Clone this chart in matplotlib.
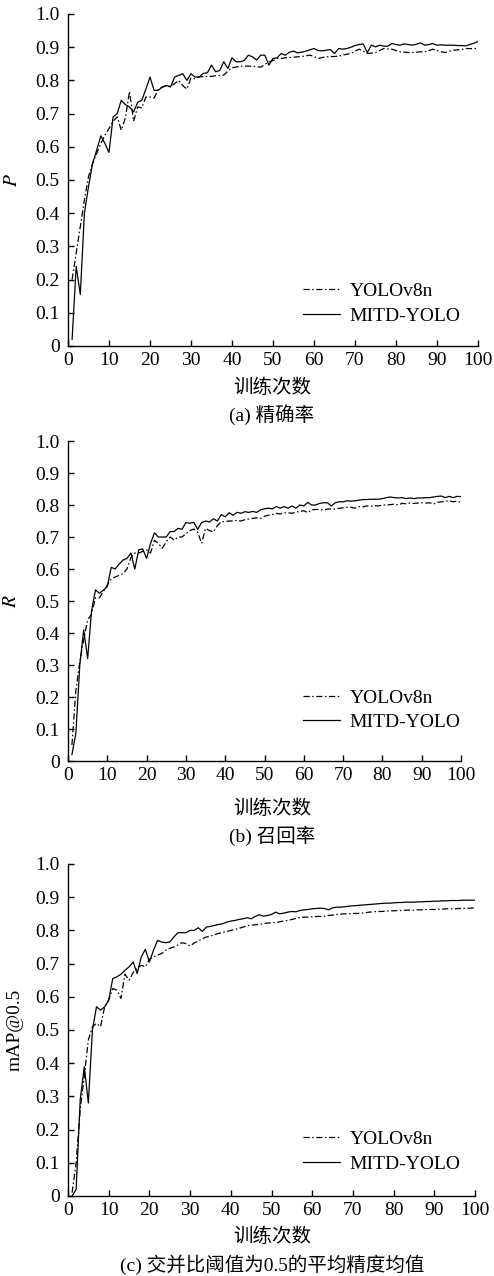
import numpy as np
import matplotlib
matplotlib.use('Agg')
import matplotlib.pyplot as plt

plt.rcParams['font.family'] = ['Liberation Serif', 'Noto Sans CJK SC']
plt.rcParams['font.size'] = 14
plt.rcParams['mathtext.fontset'] = 'stix'

epochs = np.arange(1, 101)

# (a) precision
p_yolo = [0.20, 0.28, 0.36, 0.44, 0.51, 0.55, 0.58, 0.61, 0.635, 0.655,
          0.677, 0.69, 0.65, 0.687, 0.767, 0.677, 0.72, 0.717, 0.75, 0.75,
          0.747, 0.772, 0.78, 0.784, 0.782, 0.79, 0.80, 0.784, 0.774, 0.807,
          0.805, 0.811, 0.811, 0.812, 0.812, 0.814, 0.815, 0.816, 0.828, 0.838,
          0.84, 0.843, 0.843, 0.843, 0.843, 0.841, 0.84, 0.848, 0.856, 0.86,
          0.866, 0.866, 0.868, 0.869, 0.87, 0.871, 0.872, 0.874, 0.876, 0.872,
          0.866, 0.869, 0.871, 0.872, 0.872, 0.873, 0.876, 0.879, 0.881, 0.888,
          0.894, 0.888, 0.881, 0.882, 0.884, 0.89, 0.896, 0.895, 0.894, 0.89,
          0.886, 0.885, 0.884, 0.884, 0.885, 0.886, 0.886, 0.89, 0.894, 0.89,
          0.886, 0.884, 0.888, 0.891, 0.892, 0.893, 0.896, 0.896, 0.896, 0.896]
p_mitd = [0.02, 0.24, 0.155, 0.40, 0.48, 0.55, 0.59, 0.633, 0.61, 0.583,
          0.69, 0.70, 0.74, 0.727, 0.72, 0.705, 0.734, 0.74, 0.774, 0.81,
          0.77, 0.77, 0.78, 0.785, 0.78, 0.81, 0.815, 0.82, 0.80, 0.82,
          0.81, 0.81, 0.821, 0.823, 0.846, 0.826, 0.83, 0.856, 0.836, 0.868,
          0.856, 0.856, 0.86, 0.876, 0.871, 0.861, 0.876, 0.876, 0.846, 0.866,
          0.868, 0.881, 0.876, 0.885, 0.888, 0.883, 0.885, 0.888, 0.892, 0.896,
          0.89, 0.889, 0.891, 0.893, 0.881, 0.896, 0.894, 0.896, 0.90, 0.905,
          0.908, 0.91, 0.884, 0.906, 0.901, 0.906, 0.903, 0.903, 0.911, 0.908,
          0.906, 0.91, 0.908, 0.906, 0.909, 0.913, 0.906, 0.908, 0.911, 0.906,
          0.907, 0.906, 0.906, 0.906, 0.905, 0.905, 0.904, 0.908, 0.912, 0.917]

# (b) recall
r_yolo = [0.05, 0.22, 0.31, 0.38, 0.44, 0.46, 0.51, 0.51, 0.53, 0.55,
          0.57, 0.575, 0.58, 0.585, 0.60, 0.635, 0.65, 0.65, 0.655, 0.66,
          0.65, 0.69, 0.68, 0.665, 0.685, 0.70, 0.69, 0.70, 0.70, 0.71,
          0.72, 0.725, 0.715, 0.68, 0.727, 0.72, 0.716, 0.735, 0.748, 0.748,
          0.75, 0.75, 0.752, 0.75, 0.754, 0.756, 0.758, 0.76, 0.758, 0.765,
          0.768, 0.77, 0.774, 0.772, 0.775, 0.776, 0.774, 0.778, 0.78, 0.782,
          0.776, 0.785, 0.786, 0.786, 0.784, 0.787, 0.788, 0.787, 0.79, 0.791,
          0.793, 0.793, 0.79, 0.795, 0.794, 0.797, 0.796, 0.798, 0.797, 0.80,
          0.80, 0.801, 0.803, 0.80, 0.805, 0.804, 0.806, 0.805, 0.806, 0.807,
          0.806, 0.807, 0.803, 0.808, 0.81, 0.812, 0.813, 0.81, 0.812, 0.808]
r_mitd = [0.02, 0.086, 0.30, 0.41, 0.32, 0.47, 0.535, 0.524, 0.534, 0.545,
          0.605, 0.60, 0.615, 0.628, 0.633, 0.65, 0.60, 0.66, 0.663, 0.633,
          0.68, 0.713, 0.70, 0.70, 0.70, 0.717, 0.717, 0.727, 0.724, 0.745,
          0.743, 0.746, 0.724, 0.745, 0.75, 0.747, 0.757, 0.75, 0.77, 0.763,
          0.776, 0.768, 0.777, 0.774, 0.779, 0.777, 0.78, 0.777, 0.785, 0.788,
          0.79, 0.788, 0.795, 0.79, 0.795, 0.79, 0.797, 0.79, 0.80, 0.797,
          0.808, 0.80, 0.80, 0.805, 0.807, 0.807, 0.797, 0.807, 0.81, 0.81,
          0.813, 0.812, 0.813, 0.815, 0.817, 0.817, 0.818, 0.818, 0.818, 0.82,
          0.823, 0.825, 0.823, 0.822, 0.823, 0.82, 0.822, 0.82, 0.822, 0.822,
          0.823, 0.823, 0.825, 0.827, 0.828, 0.823, 0.827, 0.823, 0.827, 0.826]

# (c) mAP@0.5
m_yolo = [0.01, 0.10, 0.26, 0.36, 0.47, 0.51, 0.52, 0.51, 0.57, 0.59,
          0.625, 0.62, 0.595, 0.668, 0.65, 0.673, 0.685, 0.695, 0.69, 0.713,
          0.72, 0.726, 0.73, 0.74, 0.746, 0.75, 0.756, 0.763, 0.76, 0.753,
          0.762, 0.768, 0.775, 0.78, 0.783, 0.787, 0.791, 0.794, 0.797, 0.80,
          0.803, 0.806, 0.81, 0.814, 0.816, 0.817, 0.818, 0.82, 0.822, 0.823,
          0.824, 0.826, 0.828, 0.83, 0.833, 0.836, 0.839, 0.84, 0.84, 0.841,
          0.842, 0.842, 0.843, 0.845, 0.846, 0.848, 0.849, 0.85, 0.85, 0.851,
          0.851, 0.852, 0.853, 0.855, 0.856, 0.857, 0.857, 0.858, 0.859, 0.859,
          0.86, 0.86, 0.861, 0.861, 0.861, 0.862, 0.862, 0.863, 0.863, 0.863,
          0.864, 0.864, 0.865, 0.865, 0.865, 0.866, 0.866, 0.867, 0.867, 0.868]
m_mitd = [0.0, 0.02, 0.29, 0.39, 0.28, 0.50, 0.57, 0.56, 0.57, 0.59,
          0.655, 0.66, 0.668, 0.68, 0.69, 0.705, 0.67, 0.72, 0.743, 0.705,
          0.74, 0.77, 0.765, 0.763, 0.765, 0.78, 0.793, 0.793, 0.793, 0.80,
          0.80, 0.808, 0.797, 0.81, 0.812, 0.815, 0.818, 0.82, 0.825, 0.828,
          0.83, 0.833, 0.835, 0.838, 0.835, 0.842, 0.847, 0.843, 0.845, 0.848,
          0.855, 0.85, 0.852, 0.855, 0.857, 0.856, 0.86, 0.862, 0.863, 0.865,
          0.866, 0.867, 0.866, 0.862, 0.868, 0.87, 0.87, 0.871, 0.873, 0.874,
          0.875, 0.876, 0.877, 0.878, 0.879, 0.88, 0.881, 0.882, 0.882, 0.883,
          0.884, 0.884, 0.885, 0.885, 0.885, 0.886, 0.886, 0.887, 0.887, 0.888,
          0.888, 0.889, 0.889, 0.89, 0.89, 0.89, 0.891, 0.891, 0.891, 0.891]

y_ticks = [0, 0.1, 0.2, 0.3, 0.4, 0.5, 0.6, 0.7, 0.8, 0.9, 1.0]
y_tick_labels = ['0', '0.1', '0.2', '0.3', '0.4', '0.5', '0.6', '0.7', '0.8', '0.9', '1.0']
x_ticks = [0, 10, 20, 30, 40, 50, 60, 70, 80, 90, 100]
series_names = ['YOLOv8n', 'MITD-YOLO']

W, H = 494, 1276
fig = plt.figure(figsize=(W / 100, H / 100), dpi=100)

# pixel boxes: left, right, top, bottom, ylabel (+ its right edge), caption, label y, caption y, legend anchor
panels = [
    (68, 478, 14, 346, '$P$', 21, '(a) 精确率', 388, 415, (0.573, 0.128), p_yolo, p_mitd),
    (68, 461, 441, 761, '$R$', 20, '(b) 召回率', 809, 836, (0.598, 0.159), r_yolo, r_mitd),
    (68, 475, 864, 1196, 'mAP@0.5', 24, '(c) 交并比阈值为0.5的平均精度均值', 1237, 1265, (0.577, 0.134), m_yolo, m_mitd),
]

for left, right, top, bottom, ylab, ylab_x, cap, lab_y, cap_y, leg_xy, yolo, mitd in panels:
    ax = fig.add_axes([left / W, 1 - bottom / H, (right - left) / W, (bottom - top) / H])
    ax.plot(epochs, yolo, color='black', lw=0.9, dashes=(5, 2, 1.2, 2), label=series_names[0])
    ax.plot(epochs, mitd, color='black', lw=0.9, label=series_names[1])
    ax.set_xlim(0, 100)
    ax.set_ylim(0, 1.0)
    ax.set_yticks(y_ticks)
    ax.set_yticklabels(y_tick_labels)
    ax.set_xticks(x_ticks)
    ax.set_xticklabels([str(t) for t in x_ticks])
    ax.tick_params(direction='in', length=4, width=1, labelsize=14)
    ax.tick_params(axis='y', pad=6)
    ax.tick_params(axis='x', pad=4)
    for s in ['top', 'right']:
        ax.spines[s].set_visible(False)
    for s in ['left', 'bottom']:
        ax.spines[s].set_linewidth(1.0)
    ax.set_ylabel(ylab, fontsize=14)
    ax.yaxis.set_label_coords((ylab_x - left) / (right - left), 0.5)
    ax.legend(loc='center left', bbox_to_anchor=leg_xy, frameon=False, fontsize=14,
              handlelength=1.9, handletextpad=0.5, borderpad=0, borderaxespad=0,
              labelspacing=0.35)
    fig.text(272 / W, 1 - lab_y / H, '训练次数', ha='center', va='center', fontsize=14)
    fig.text(272 / W, 1 - cap_y / H, cap, ha='center', va='center', fontsize=14)

fig.savefig('out.png', dpi=100)
